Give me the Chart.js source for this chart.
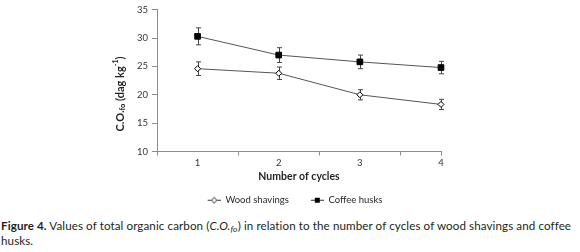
<!DOCTYPE html>
<html>
<head>
<meta charset="utf-8">
<script src="https://cdn.jsdelivr.net/npm/chart.js@4.4.1/dist/chart.umd.min.js"></script>
<style>
  body { margin: 0; background: #fff; width: 580px; height: 252px; position: relative; overflow: hidden; }
  #wrap { position: absolute; left: 0; top: 0; width: 580px; height: 215px; }
  #caption { position: absolute; left: 1px; top: 219px; width: 600px; white-space: nowrap; font: 11.6px Lato, sans-serif; letter-spacing: 0.1px; line-height: 14.5px; color: #231f20; }
  #caption sub { font-size: 8.5px; line-height: 0; vertical-align: -2px; }
</style>
</head>
<body>
<div id="wrap"><canvas id="chart"></canvas></div>
<div id="caption"><b>Figure 4.</b> Values of total organic carbon (<i>C.O.<sub>fo</sub></i>) in relation to the number of cycles of wood shavings and coffee<br>husks.</div>
<script>
// data
const cycles = [1, 2, 3, 4];
const woodShavings = [24.6, 23.8, 20.0, 18.3];
const woodErr = [1.2, 1.1, 0.9, 0.9];
const coffeeHusks = [30.3, 27.0, 25.8, 24.8];
const coffeeErr = [1.5, 1.3, 1.2, 1.1];
const yTicks = [10, 15, 20, 25, 30, 35];
const xTickValues = [0.5, 1, 1.5, 2, 2.5, 3, 3.5, 4];

const FONT = 'Lato, sans-serif';
const AXIS = '#8c8c8c';

// small line+marker pictures for the legend
function legendIcon(filled) {
    const c = document.createElement('canvas');
    c.width = 35; c.height = 9;
    const g = c.getContext('2d');
    g.strokeStyle = '#333';
    g.lineWidth = 1;
    g.beginPath(); g.moveTo(22, 4.5); g.lineTo(35, 4.5); g.stroke();
    g.beginPath();
    if (filled) {
        g.fillStyle = '#000';
        g.fillRect(26, 2, 5, 5);
    } else {
        g.moveTo(28.5, 1.5); g.lineTo(31, 4.5); g.lineTo(28.5, 7.5); g.lineTo(26, 4.5); g.closePath();
        g.fillStyle = '#fff'; g.fill(); g.stroke();
    }
    return c;
}

// vertical error bars drawn from the y scale
const errorBars = {
    id: 'errorBars',
    beforeDatasetsDraw(chart) {
        const ctx = chart.ctx, y = chart.scales.y;
        ctx.save();
        ctx.strokeStyle = '#444';
        ctx.lineWidth = 1;
        chart.data.datasets.forEach((ds, i) => {
            chart.getDatasetMeta(i).data.forEach((pt, j) => {
                const v = ds.data[j].y, e = ds.errors[j];
                const top = y.getPixelForValue(v + e), bot = y.getPixelForValue(v - e);
                const x = Math.round(pt.x) + 0.5;
                ctx.beginPath();
                ctx.moveTo(x, top); ctx.lineTo(x, bot);
                ctx.moveTo(x - 2.5, top); ctx.lineTo(x + 2.5, top);
                ctx.moveTo(x - 2.5, bot); ctx.lineTo(x + 2.5, bot);
                ctx.stroke();
            });
        });
        ctx.restore();
    }
};

// rotated y title with subscript and superscript
const yTitle = {
    id: 'yTitle',
    afterDraw(chart) {
        const ctx = chart.ctx;
        const parts = [
            ['C.O.', 0, 'bold 11px ' + FONT],
            ['fo', 3, 'bold 7.5px ' + FONT],
            [' (dag kg', 0, 'bold 11px ' + FONT],
            ['-1', -4, 'bold 7px ' + FONT],
            [')', 0, 'bold 11px ' + FONT]
        ];
        ctx.save();
        ctx.translate(120, 94);
        ctx.rotate(-Math.PI / 2);
        ctx.fillStyle = '#231f20';
        ctx.textBaseline = 'middle';
        let total = 0;
        parts.forEach(p => { ctx.font = p[2]; total += ctx.measureText(p[0]).width; });
        let x = -total / 2;
        parts.forEach(p => {
            ctx.font = p[2];
            ctx.fillText(p[0], x, p[1]);
            x += ctx.measureText(p[0]).width;
        });
        ctx.restore();
    }
};

const icons = [legendIcon(false), legendIcon(true)];

new Chart(document.getElementById('chart'), {
    type: 'line',
    data: {
        datasets: [{
            label: 'Wood shavings',
            data: cycles.map((c, i) => ({ x: c, y: woodShavings[i] })),
            errors: woodErr,
            borderColor: '#555',
            borderWidth: 1,
            pointStyle: 'rectRot',
            pointRadius: 3,
            pointBackgroundColor: '#fff',
            pointBorderColor: '#000',
            pointBorderWidth: 1
        }, {
            label: 'Coffee husks',
            data: cycles.map((c, i) => ({ x: c, y: coffeeHusks[i] })),
            errors: coffeeErr,
            borderColor: '#555',
            borderWidth: 1,
            pointStyle: 'rect',
            pointRadius: 4,
            pointBackgroundColor: '#000',
            pointBorderColor: '#000',
            pointBorderWidth: 1
        }]
    },
    options: {
        responsive: true,
        maintainAspectRatio: false,
        animation: false,
        clip: false,
        layout: { padding: { left: 127, right: 139, top: 9, bottom: 0 } },
        scales: {
            x: {
                type: 'linear',
                min: 0.5,
                max: 4,
                afterBuildTicks: s => { s.ticks = xTickValues.map(v => ({ value: v })); },
                afterFit: s => { s.height = 44; },
                ticks: {
                    autoSkip: false,
                    maxRotation: 0,
                    padding: 2,
                    color: '#333',
                    font: { family: FONT, size: 9.5 },
                    callback: v => Number.isInteger(v) ? String(v) : ''
                },
                grid: {
                    drawOnChartArea: false,
                    tickLength: 4,
                    tickColor: c => (Number.isInteger(c.tick.value) && c.tick.value !== 4) ? 'rgba(0,0,0,0)' : AXIS
                },
                border: { color: AXIS },
                title: {
                    display: true,
                    text: 'Number of cycles',
                    color: '#231f20',
                    font: { family: FONT, size: 10.5, weight: 'bold' },
                    padding: { top: 0, bottom: 13 }
                }
            },
            y: {
                min: 10,
                max: 35,
                afterBuildTicks: s => { s.ticks = yTicks.map(v => ({ value: v })); },
                afterFit: s => { s.width = 30; },
                ticks: { padding: 4, color: '#333', font: { family: FONT, size: 9.5 } },
                grid: { drawOnChartArea: false, tickLength: 5, tickColor: AXIS },
                border: { color: AXIS }
            }
        },
        plugins: {
            tooltip: { enabled: false },
            legend: {
                position: 'bottom',
                labels: {
                    usePointStyle: true,
                    pointStyleWidth: 35,
                    padding: 0,
                    color: '#231f20',
                    font: { family: FONT, size: 9.5 },
                    generateLabels: chart => chart.data.datasets.map((ds, i) => ({
                        text: ds.label,
                        pointStyle: icons[i],
                        fillStyle: '#000',
                        strokeStyle: '#000',
                        lineWidth: 0,
                        hidden: false,
                        datasetIndex: i,
                        fontColor: '#231f20'
                    }))
                }
            }
        }
    },
    plugins: [errorBars, yTitle]
});
</script>
</body>
</html>
